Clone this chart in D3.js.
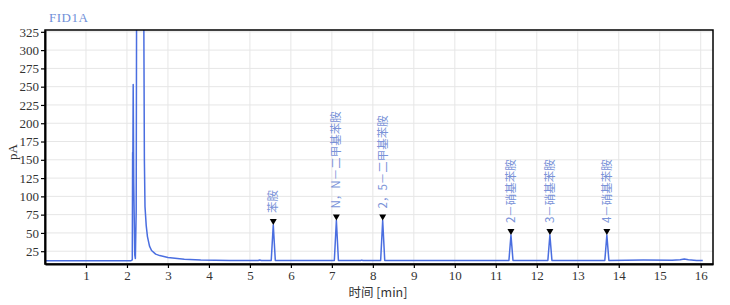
<!DOCTYPE html>
<html>
<head>
<meta charset="utf-8">
<script src="https://cdn.jsdelivr.net/npm/d3@7"></script>
<style>
  body { margin: 0; background: #fff; }
</style>
</head>
<body>
<div id="chart"></div>
<script>
// trace (time in min, signal in pA)
var times = [0, 1, 2.10, 2.13, 2.138, 2.143, 2.152, 2.165, 2.19, 2.205, 2.225, 2.24, 2.40, 2.425, 2.44, 2.47, 2.5, 2.55, 2.6, 2.7, 2.8, 3.0, 3.4, 3.8, 4.5,
  5.2, 5.24, 5.28, 5.52, 5.57, 5.62, 6.6, 7.06, 7.11, 7.16, 7.7, 7.73, 7.76, 8.19, 8.24, 8.29,
  11.32, 11.37, 11.42, 12.27, 12.32, 12.37, 13.66, 13.71, 13.76, 14.6, 15.3, 15.5, 15.6, 15.7, 15.9, 16.05];
var signal = [12, 12, 12, 13, 160, 140, 253, 120, 20, 15, 80, 500, 500, 150, 86, 60, 45, 32, 26, 21, 19, 16.5, 14, 13, 12.3,
  12.2, 13, 12.2, 12.2, 61, 12.2, 12.2, 12.2, 67, 12.2, 12.2, 12.8, 12.2, 12.2, 67, 12.2,
  12.2, 47, 12.2, 12.2, 47, 12.2, 12.2, 47, 12.2, 12.8, 12.6, 13.2, 14.2, 13.2, 12.2, 12.2];

// labelled peaks
var peakNames = ["苯胺", "N，N－二甲基苯胺", "2，5－二甲基苯胺", "2－硝基苯胺", "3－硝基苯胺", "4－硝基苯胺"];
var peakTimes = [5.57, 7.11, 8.24, 11.37, 12.32, 13.71];
var peakHeights = [61, 67, 67, 47, 47, 47];

// tick labels
var xTicks = [1, 2, 3, 4, 5, 6, 7, 8, 9, 10, 11, 12, 13, 14, 15, 16];
var yTicks = [25, 50, 75, 100, 125, 150, 175, 200, 225, 250, 275, 300, 325];

var serif = "'Liberation Serif', 'DejaVu Serif', serif";
var cjk = "'Noto Sans CJK SC', sans-serif";

var svgWidth = 730;
var svgHeight = 305;

var margin = { top: 30, right: 17, bottom: 41, left: 45 };
var width = svgWidth - margin.left - margin.right;
var height = svgHeight - margin.top - margin.bottom;

var svg = d3.select("#chart")
  .append("svg")
  .attr("width", svgWidth)
  .attr("height", svgHeight);

var chartGroup = svg.append("g")
  .attr("transform", `translate(${margin.left}, ${margin.top})`);

var xScale = d3.scaleLinear().domain([0, 16.3]).range([0, width]);
var yScale = d3.scaleLinear().domain([7.5, 327.5]).range([height, 0]);

// grid
chartGroup.append("g").selectAll("line.vg")
  .data(xTicks).enter().append("line")
  .attr("x1", d => xScale(d)).attr("x2", d => xScale(d))
  .attr("y1", 0).attr("y2", height)
  .attr("stroke", "#e6e6e6");
chartGroup.append("g").selectAll("line.hg")
  .data(yTicks).enter().append("line")
  .attr("x1", 0).attr("x2", width)
  .attr("y1", d => yScale(d)).attr("y2", d => yScale(d))
  .attr("stroke", "#e6e6e6");

// trace
svg.append("clipPath").attr("id", "plotClip")
  .append("rect").attr("width", width).attr("height", height);

var points = times.map((t, i) => [t, signal[i]]);
var line = d3.line().x(d => xScale(d[0])).y(d => yScale(d[1]));

chartGroup.append("path")
  .datum(points)
  .attr("clip-path", "url(#plotClip)")
  .attr("fill", "none")
  .attr("stroke", "#4a6ee0")
  .attr("stroke-width", 1.5)
  .attr("stroke-linejoin", "round")
  .attr("d", line);

// frame
chartGroup.append("rect")
  .attr("width", width).attr("height", height)
  .attr("fill", "none").attr("stroke", "#000").attr("stroke-width", 1.5);

// axes
var bottomAxis = d3.axisBottom(xScale).tickValues(xTicks).tickSize(4).tickSizeOuter(0);
var leftAxis = d3.axisLeft(yScale).tickValues(yTicks).tickSize(4).tickSizeOuter(0);

var xAxisG = chartGroup.append("g")
  .attr("transform", `translate(0, ${height})`)
  .call(bottomAxis);
var yAxisG = chartGroup.append("g").call(leftAxis);

[xAxisG, yAxisG].forEach(function(g) {
  g.attr("font-family", serif).attr("font-size", 13);
  g.select(".domain").attr("stroke", "#000").attr("stroke-width", 2);
  g.selectAll(".tick line").attr("stroke", "#000").attr("stroke-width", 1.2);
  g.selectAll(".tick text").attr("fill", "#333");
});
yAxisG.selectAll(".tick text").attr("x", -6);

// peak markers and labels
var peaks = peakTimes.map((t, i) => ({ t: t, h: peakHeights[i], name: peakNames[i] }));

chartGroup.append("g").selectAll("path")
  .data(peaks).enter().append("path")
  .attr("d", d => {
    var x = xScale(d.t), y = yScale(d.h);
    return `M${x - 3.5},${y - 6}L${x + 3.5},${y - 6}L${x},${y}Z`;
  })
  .attr("fill", "#000");

chartGroup.append("g").selectAll("text")
  .data(peaks).enter().append("text")
  .attr("font-family", cjk)
  .attr("font-size", 11.5)
  .attr("fill", "#7a93d8")
  .attr("transform", d => `translate(${xScale(d.t)}, ${yScale(d.h) - 12}) rotate(-90)`)
  .attr("dy", "0.35em")
  .text(d => d.name);

// titles
svg.append("text")
  .attr("x", 49).attr("y", 21.5)
  .attr("font-family", serif)
  .attr("font-size", 13)
  .attr("letter-spacing", 0.5)
  .attr("fill", "#6f8fd8")
  .text("FID1A");

svg.append("text")
  .attr("transform", "translate(17, 152) rotate(-90)")
  .attr("text-anchor", "middle")
  .attr("font-family", serif)
  .attr("font-size", 13)
  .attr("fill", "#333")
  .text("pA");

svg.append("text")
  .attr("x", 378).attr("y", 297)
  .attr("text-anchor", "middle")
  .attr("font-family", cjk)
  .attr("font-size", 12.5)
  .attr("fill", "#333")
  .text("时间 [min]");
</script>
</body>
</html>
